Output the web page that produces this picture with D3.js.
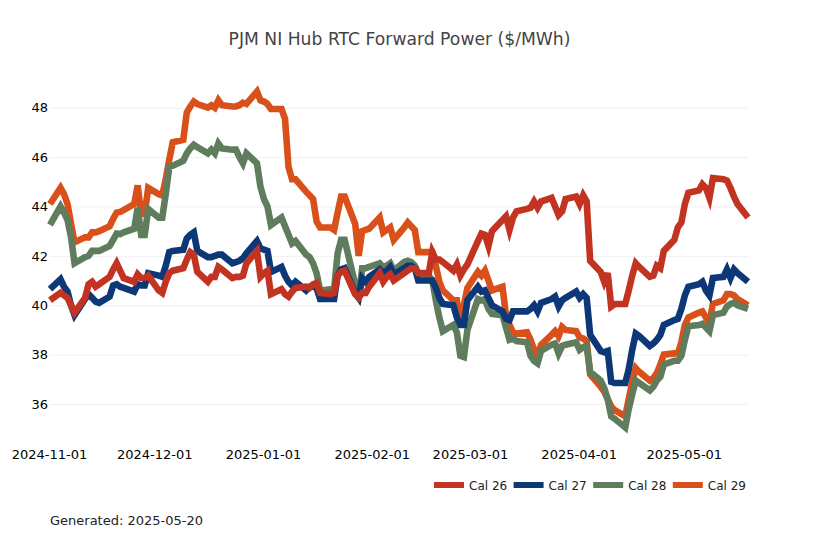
<!DOCTYPE html>
<html>
<head>
<meta charset="utf-8">
<script src="https://cdn.jsdelivr.net/npm/d3@7"></script>
<style>
    html, body { margin: 0; padding: 0; background: #fff; }
    text { font-family: "DejaVu Sans", sans-serif; }
</style>
</head>
<body>
<div id="chart"></div>
<script>
// weekdays per month, Nov 2024 - May 2025
const monthDays = [
    ["2024-11", [1,4,5,6,7,8,11,12,13,14,15,18,19,20,21,22,25,26,27,28,29]],
    ["2024-12", [2,3,4,5,6,9,10,11,12,13,16,17,18,19,20,23,24,25,26,27,30,31]],
    ["2025-01", [1,2,3,6,7,8,9,10,13,14,15,16,17,20,21,22,23,24,27,28,29,30,31]],
    ["2025-02", [3,4,5,6,7,10,11,12,13,14,17,18,19,20,21,24,25,26,27,28]],
    ["2025-03", [3,4,5,6,7,10,11,12,13,14,17,18,19,20,21,24,25,26,27,28,31]],
    ["2025-04", [1,2,3,4,7,8,9,10,11,14,15,16,17,18,21,22,23,24,25,28,29,30]],
    ["2025-05", [1,2,5,6,7,8,9,12,13,14,15,16,19]]
];

const cal26 = [
    40.2,40.5,40.4,40.3,40.0,39.7,40.3,40.85,40.95,40.75,40.85,41.15,41.45,41.7,41.4,41.1,40.95,41.25,41.1,41.1,41.2,
    40.6,40.5,40.95,41.3,41.4,41.5,41.85,42.15,42.05,41.35,40.95,41.15,41.15,41.55,41.45,41.1,41.15,41.15,41.2,41.7,42.2,41.15,
    41.3,41.4,40.45,40.65,40.45,40.35,40.55,40.7,40.75,40.7,40.85,40.9,40.5,40.45,40.5,41.2,41.35,41.4,40.45,40.3,40.5,40.5,40.75,
    41.3,40.95,41.15,41.25,41.0,41.3,41.4,41.5,41.5,41.3,41.3,42.15,41.85,41.85,41.75,41.4,41.65,41.2,41.45,41.65,
    42.6,42.9,42.85,42.4,43.0,43.45,43.6,43.05,43.55,43.8,43.9,43.95,44.2,43.95,44.2,44.35,44.0,43.65,43.8,44.3,44.4,
    44.1,44.45,44.2,41.8,41.35,40.95,41.3,39.95,40.05,40.05,40.6,41.2,41.7,41.55,41.15,41.2,41.6,41.5,42.2,42.65,43.15,43.35,
    44.1,44.55,44.65,44.9,44.75,44.35,45.15,45.1,45.05,44.75,44.4,44.1,43.55
];

const cal27 = [
    40.65,41.05,40.75,40.55,40.0,39.6,40.25,40.45,40.3,40.15,40.1,40.35,40.8,40.85,40.75,40.7,40.55,40.85,40.8,40.8,41.3,
    41.2,41.15,41.6,42.15,42.2,42.25,42.7,42.85,42.95,42.2,41.95,41.95,42.0,42.05,42.05,41.7,41.75,41.8,41.9,42.1,42.6,42.3,
    42.25,42.2,41.35,41.55,41.2,40.95,40.8,40.95,40.6,40.75,40.75,40.7,40.25,40.25,40.25,41.2,41.45,41.5,40.5,40.3,41.1,40.95,41.15,
    41.45,41.3,41.4,41.55,41.25,41.5,41.6,41.6,41.5,41.0,41.0,41.0,40.7,40.3,40.05,40.0,39.5,39.2,39.2,40.2,
    40.75,40.55,40.6,40.3,40.0,39.75,39.45,39.4,39.75,39.75,39.75,39.85,40.0,39.75,40.1,40.25,40.35,39.95,40.2,40.3,40.55,
    40.3,40.45,40.3,38.8,38.15,38.1,38.15,36.9,36.85,36.85,37.4,38.2,38.85,38.75,38.35,38.45,38.6,38.8,39.2,39.4,39.45,39.85,
    40.4,40.75,40.85,40.95,40.6,40.4,41.1,41.15,41.45,41.1,41.45,41.3,40.95
];

const cal28 = [
    43.25,44.0,43.75,43.45,42.75,41.7,41.95,42.0,42.2,42.2,42.2,42.4,42.65,42.9,42.88,42.95,43.1,43.95,42.85,42.85,43.9,
    43.55,43.55,44.5,45.6,45.65,45.85,46.15,46.35,46.5,46.4,46.15,46.3,46.15,46.55,46.35,46.3,46.3,46.0,45.75,46.15,45.75,44.8,
    44.3,44.0,43.25,43.55,43.2,42.85,42.5,42.6,42.05,41.95,41.7,41.3,40.6,40.65,40.65,42.1,42.65,42.65,40.85,40.3,41.5,41.5,41.55,
    41.7,41.55,41.6,41.7,41.4,41.75,41.8,41.75,41.6,41.3,41.2,41.0,40.2,39.5,38.95,39.2,38.9,37.95,37.9,39.0,
    40.25,40.2,40.25,39.85,39.65,39.6,39.1,38.6,38.65,38.55,38.5,37.95,37.75,37.65,38.15,38.4,38.45,38.05,38.35,38.4,38.5,
    38.2,38.3,38.35,37.3,36.95,36.65,36.2,35.5,35.4,35.05,35.8,36.4,36.95,36.85,36.55,36.7,36.95,37.1,37.6,37.75,37.75,37.95,
    38.6,39.15,39.2,39.25,39.1,38.95,39.6,39.7,39.95,40.05,40.1,40.0,39.85
];

const cal29 = [
    44.1,44.75,44.5,44.1,43.3,42.55,42.75,42.75,42.95,42.95,43.0,43.2,43.5,43.75,43.78,43.85,44.1,44.85,43.7,43.7,44.75,
    44.5,44.45,45.1,45.9,46.6,46.7,47.8,48.05,48.25,48.15,48.0,48.1,48.0,48.3,48.1,48.05,48.05,48.1,48.2,48.15,48.65,48.3,
    48.25,48.15,47.95,47.95,47.55,45.6,45.1,45.1,44.6,44.45,44.3,43.4,43.15,43.15,43.05,43.75,44.4,44.4,43.3,42.0,43.0,43.05,43.1,
    43.55,42.95,43.05,43.15,42.65,43.15,43.35,43.2,43.05,42.15,42.15,42.15,41.6,40.95,40.6,40.2,40.2,39.3,40.0,40.7,
    41.35,41.2,41.4,41.0,40.6,40.75,39.6,39.2,38.9,38.85,38.9,38.6,38.2,37.95,38.4,38.8,38.95,38.75,39.12,39.0,38.95,
    38.7,38.65,38.55,37.2,36.7,36.5,36.2,35.9,35.75,35.5,36.2,36.9,37.45,37.3,36.95,37.05,37.25,37.6,38.0,38.05,38.05,38.5,
    39.2,39.5,39.7,39.75,39.5,39.3,40.05,40.2,40.45,40.45,40.4,40.25,40.0
];

const seriesNames = ["Cal 26", "Cal 27", "Cal 28", "Cal 29"];
const seriesValues = [cal26, cal27, cal28, cal29];
const seriesColors = ["#c23321", "#0d3878", "#5f7d5c", "#d9501a"];
const xTickLabels = ["2024-11-01", "2024-12-01", "2025-01-01", "2025-02-01", "2025-03-01", "2025-04-01", "2025-05-01"];
const yTickLabels = [36, 38, 40, 42, 44, 46, 48];

const parseDate = d3.utcParse("%Y-%m-%d");
const dates = monthDays.flatMap(m => m[1].map(d => parseDate(m[0] + "-" + String(d).padStart(2, "0"))));

const svg = d3.select("#chart")
    .append("svg")
    .attr("width", 818)
    .attr("height", 545);

const x = d3.scaleUtc()
    .domain(d3.extent(dates))
    .range([50, 748]);

const y = d3.scaleLinear()
    .domain([35, 49])
    .range([428.7, 83]);

svg.append("text")
    .attr("x", 399.5)
    .attr("y", 45)
    .attr("text-anchor", "middle")
    .attr("fill", "#444")
    .style("font-size", "17.2px")
    .text("PJM NI Hub RTC Forward Power ($/MWh)");

const yAxis = svg.append("g")
    .attr("transform", "translate(50,0)")
    .call(d3.axisLeft(y).tickValues(yTickLabels).tickSize(-698).tickPadding(2));
yAxis.select(".domain").remove();
yAxis.selectAll("line").attr("stroke", "#f0f0f0");
yAxis.selectAll("text").attr("fill", "#000").style("font-size", "13px");

const xAxis = svg.append("g")
    .attr("transform", "translate(-1,442)")
    .call(d3.axisBottom(x)
        .tickValues(xTickLabels.map(parseDate))
        .tickFormat(d3.utcFormat("%Y-%m-%d"))
        .tickSize(0)
        .tickPadding(8));
xAxis.select(".domain").remove();
xAxis.selectAll("text").attr("fill", "#000").style("font-size", "13px");

const line = d3.line()
    .x((d, i) => x(dates[i]))
    .y(d => y(d));

// Cal 26 ends up on top
svg.selectAll(".line")
    .data(seriesNames.map((name, i) => i).reverse())
    .join("path")
    .attr("class", "line")
    .attr("fill", "none")
    .attr("stroke", i => seriesColors[i])
    .attr("stroke-width", 6.6)
    .attr("stroke-linejoin", "miter")
    .attr("d", i => line(seriesValues[i]));

const legend = svg.selectAll(".legend")
    .data(seriesNames)
    .join("g")
    .attr("class", "legend")
    .attr("transform", (d, i) => `translate(${434 + i * 79.6},485)`);

legend.append("line")
    .attr("x1", 0)
    .attr("x2", 30)
    .attr("stroke", (d, i) => seriesColors[i])
    .attr("stroke-width", 6);

legend.append("text")
    .attr("x", 35)
    .attr("y", 5)
    .attr("fill", "#222")
    .style("font-size", "12px")
    .text(d => d);

svg.append("text")
    .attr("x", 50)
    .attr("y", 525)
    .attr("fill", "#222")
    .style("font-size", "13px")
    .text("Generated: 2025-05-20");
</script>
</body>
</html>
